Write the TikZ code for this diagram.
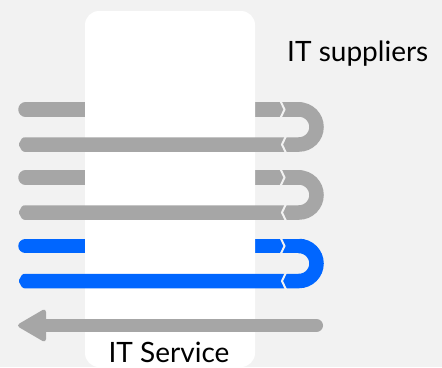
\documentclass[tikz,border=0pt]{standalone}
\usepackage{fontspec}
\setmainfont{Lato}
\usetikzlibrary{calc}
\definecolor{paper}{HTML}{F2F2F2}
\definecolor{barGray}{HTML}{A6A6A6}
\definecolor{flowBlue}{HTML}{0066FF}
\tikzset{
  bar/.style={line width=14.5pt},
  gap/.style={draw=paper, line width=2pt, miter limit=10},
  label/.style={font=\fontsize{28}{32}\selectfont, inner sep=0pt}
}

\begin{document}
\begin{tikzpicture}[x=1pt, y=-1pt]
			%%%%% START %%%%%
			\fill[paper] (0, 0) rectangle (442, 367);
			\useasboundingbox (0, 0) rectangle (442, 367);
			
			% outgoing bars, behind the service column
			\draw[bar, barGray, line cap=round] (25.5, 109.5) -- (300, 109.5);
			\draw[bar, barGray, line cap=round] (25.5, 177.5) -- (300, 177.5);
			\draw[bar, flowBlue, line cap=round] (25.5, 246) -- (300, 246);
			
			\fill[white, rounded corners=14pt] (85, 11) rectangle (255, 367);
			
			% turn and return
			\draw[bar, barGray] (299, 109.5) arc (-90:90:17.5) -- (25, 144.5);
			\fill[barGray, rounded corners=1.5pt] (26, 137.25) -- (22.5, 137.25) -- (18.5, 144.5) -- (22.5, 151.75) -- (26, 151.75) -- cycle;
			\draw[gap] (280.5, 101) -- (284.5, 109.5) -- (280.5, 118);
			\draw[gap] (286, 136) -- (282, 144.5) -- (286, 153);
			
			\draw[bar, barGray] (299, 177.5) arc (-90:90:17.5) -- (25, 212.5);
			\fill[barGray, rounded corners=1.5pt] (26, 205.25) -- (22.5, 205.25) -- (18.5, 212.5) -- (22.5, 219.75) -- (26, 219.75) -- cycle;
			\draw[gap] (280.5, 169) -- (284.5, 177.5) -- (280.5, 186);
			\draw[gap] (286, 204) -- (282, 212.5) -- (286, 221);
			
			\draw[bar, flowBlue] (299, 246) arc (-90:90:17.5) -- (25, 281);
			\fill[flowBlue, rounded corners=1.5pt] (26, 273.75) -- (22.5, 273.75) -- (18.5, 281) -- (22.5, 288.25) -- (26, 288.25) -- cycle;
			\draw[gap] (280.5, 237.5) -- (284.5, 246) -- (280.5, 254.5);
			\draw[gap] (286, 272.5) -- (282, 281) -- (286, 289.5);
			
			% long return arrow
			\draw[barGray, line width=13pt, line cap=round] (316.5, 325.5) -- (44, 325.5);
			\fill[barGray, rounded corners=4pt] (16, 325.5) -- (46, 308) -- (46, 343) -- cycle;
			
			\node[label, anchor=base west] (suppliers) at (287, 61) {IT suppliers};
			\node[label, anchor=base] (service) at (169, 362) {IT Service};
			%%%%% END %%%%%
\end{tikzpicture}
\end{document}
